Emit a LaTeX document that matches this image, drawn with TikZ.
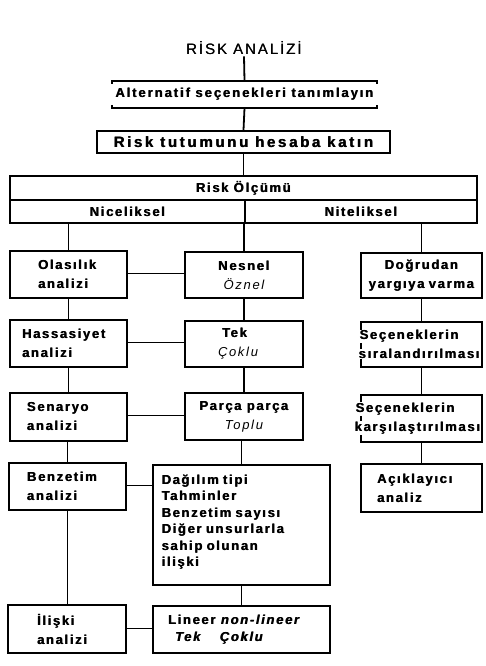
\documentclass[tikz,border=0pt]{standalone}
\usepackage{fontspec}
\newfontfamily\rg{Liberation Sans}[LetterSpace=13]
\newfontfamily\bx{Liberation Sans}[
  BoldFont={Liberation Sans Bold},
  ItalicFont={Liberation Sans Italic},
  BoldItalicFont={Liberation Sans Bold Italic}]
\newcommand\bxf[2]{\bx\bfseries\fontsize{#1}{#2}\selectfont\addfontfeature{LetterSpace=13}}
\newcommand\bb[1]{\leavevmode\rlap{#1}\hspace{0.5pt}#1}
\newcommand\wbg[1]{{\setlength{\fboxsep}{0.6pt}\colorbox{white}{\bb{#1}}}}
\begin{document}
\begin{tikzpicture}[x=1pt,y=-1pt,
  box/.style={draw,line width=2pt,inner sep=0pt,align=center,
    font=\bxf{13}{19}},
  lbox/.style={box,align=left},
  vline/.style={line width=1.8pt},
  hline/.style={line width=1pt}]
\useasboundingbox (0,0) rectangle (485,666);
% title and top chain
\node[font=\rg\fontsize{15}{16}\selectfont,inner sep=1.5pt] (title) at (244,48) {\rlap{RİSK ANALİZİ}\hspace{0.3pt}RİSK ANALİZİ};
\node[box,draw=none,minimum width=263pt,minimum height=25pt,
  font=\bxf{13}{19}\addfontfeature{LetterSpace=15}] (alt) at (244.5,94.5) {\bb{Alternatif seçenekleri tanımlayın}};
\draw[line width=2pt] ([yshift=-3pt]alt.north west) -- (alt.north west) -- (alt.north east) -- ([yshift=-3pt]alt.north east);
\draw[line width=2pt] ([yshift=3pt]alt.south west) -- (alt.south west) -- (alt.south east) -- ([yshift=3pt]alt.south east);
\node[box,minimum width=293pt,minimum height=22pt,
  font=\bxf{15}{17}\addfontfeature{LetterSpace=18}] (tut) at (243.5,142) {\bb{Risk tutumunu hesaba katın}};
\node[box,minimum width=467pt,minimum height=24pt] (olc) at (243.5,188) {\bb{Risk Ölçümü}};
\node[box,minimum width=235pt,minimum height=23pt] (nic) at (127.5,211.5) {\bb{Niceliksel}};
\node[box,minimum width=232pt,minimum height=23pt] (nit) at (361,211.5) {\bb{Niteliksel}};
\draw[vline] (title.south) -- (alt.north);
\draw[vline] (alt.south) -- (tut.north);
\draw[vline] (tut.south) -- (olc.north);
% left column
\node[lbox,inner xsep=28pt,text width=61pt,minimum height=47pt] (ola) at (68.5,274.5) {\bb{Olasılık}\\\bb{analizi}};
\node[lbox,inner xsep=12pt,text width=93pt,minimum height=47pt] (has) at (68.5,343.5) {\bb{Hassasiyet}\\\bb{analizi}};
\node[lbox,inner xsep=17pt,text width=83pt,minimum height=48pt] (sen) at (68.5,417) {\bb{Senaryo}\\\bb{analizi}};
\node[lbox,inner xsep=18pt,text width=81pt,minimum height=47pt] (ben) at (67.5,486.5) {\bb{Benzetim}\\\bb{analizi}};
\node[lbox,inner xsep=29pt,text width=60pt,minimum height=48pt] (ili) at (67,629) {\bb{İlişki}\\\bb{analizi}};
% middle column
\node[box,minimum width=118pt,minimum height=46pt] (nes) at (244,275) {\bb{Nesnel}\\\mdseries\itshape Öznel};
\node[lbox,inner xsep=33pt,text width=52pt,minimum height=46pt] (tek) at (244,344) {\hspace*{4pt}\bb{Tek}\\\mdseries\itshape Çoklu};
\node[box,minimum width=118pt,minimum height=47pt] (par) at (244,416.5) {\bb{Parça parça}\\\mdseries\itshape Toplu};
\node[lbox,text width=160pt,minimum width=177pt,minimum height=120pt,
  font=\bxf{13}{16.5}] (dag) at (241.5,525)
  {\bb{Dağılım tipi}\\\bb{Tahminler}\\\bb{Benzetim sayısı}\\\bb{Diğer unsurlarla}\\\bb{sahip olunan}\\\bb{ilişki}\\[-8pt]\mbox{}};
\node[lbox,inner xsep=15pt,text width=147pt,minimum height=47pt,
  font=\bxf{13}{17}] (lin) at (241.5,629.5)
  {\bb{Lineer}\hspace{5pt}\bb{\itshape non-lineer}\\\hspace*{7pt}\bb{Tek}\hspace{19pt}\bb{\itshape Çoklu}};
% right column
\node[box,text width=121pt,minimum height=45pt] (dog) at (421.5,275.5) {\wbg{Doğrudan}\\\wbg{yargıya varma}};
\node[lbox,text width=121pt,minimum height=45pt] (sir) at (421.5,344.5) {\hspace*{-2pt}\wbg{Seçeneklerin}\\\hspace*{-3pt}\wbg{sıralandırılması}};
\node[lbox,text width=121pt,minimum height=47pt] (kar) at (421.5,418.5) {\hspace*{-6pt}\wbg{Seçeneklerin}\\\hspace*{-7pt}\wbg{karşılaştırılması}};
\node[lbox,inner xsep=16pt,text width=89pt,minimum height=48pt] (aci) at (421.5,488) {\bb{Açıklayıcı}\\\bb{analiz}};
% vertical connectors
\draw[vline] (ola.north |- nic.south) -- (ola.north);
\draw[vline] (nes.north |- nic.south) -- (nes.north);
\draw[vline] (dog.north |- nit.south) -- (dog.north);
\draw[vline] (ola.south) -- (ola.south |- has.north);
\draw[vline] (has.south) -- (has.south |- sen.north);
\draw[vline] (ben.north |- sen.south) -- (ben.north);
\draw[vline] (ben.south) -- (ben.south |- ili.north);
\draw[vline] (nes.south) -- (nes.south |- tek.north);
\draw[vline] (tek.south) -- (tek.south |- par.north);
\draw[vline] (dag.north |- par.south) -- (dag.north);
\draw[vline] (dag.south) -- (dag.south |- lin.north);
\draw[vline] (dog.south) -- (dog.south |- sir.north);
\draw[vline] (sir.south) -- (sir.south |- kar.north);
\draw[vline] (kar.south) -- (kar.south |- aci.north);
% horizontal connectors
\draw[hline] ([yshift=1.5pt]ola.east) -- ([yshift=1.5pt]ola.east -| nes.west);
\draw[hline] ([yshift=1.5pt]has.east) -- ([yshift=1.5pt]has.east -| tek.west);
\draw[hline] ([yshift=2pt]sen.east) -- ([yshift=2pt]sen.east -| par.west);
\draw[hline] ([yshift=1.5pt]ben.east) -- ([yshift=1.5pt]ben.east -| dag.west);
\draw[hline] ([yshift=1pt]ili.east) -- ([yshift=1pt]ili.east -| lin.west);
\end{tikzpicture}
\end{document}
